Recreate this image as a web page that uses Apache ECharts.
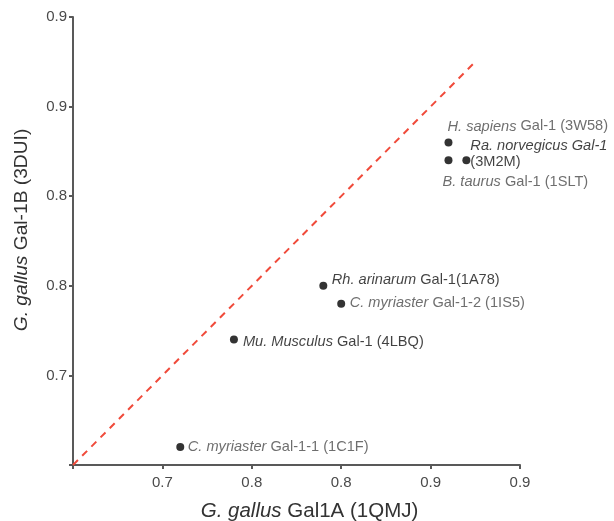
<!DOCTYPE html>
<html>
<head>
<meta charset="utf-8">
<script src="https://cdn.jsdelivr.net/npm/echarts@6/dist/echarts.min.js"></script>
<style>html,body{margin:0;padding:0;background:#fff}#c{width:614px;height:521px}</style>
</head>
<body>
<div id="c"></div>
<script>
// ---- data ----
var xValues = [0.71, 0.74, 0.79, 0.80, 0.86, 0.87, 0.86];
var yValues = [0.66, 0.72, 0.75, 0.74, 0.83, 0.82, 0.82];
var labelItalic = ['C. myriaster', 'Mu. Musculus', 'Rh. arinarum', 'C. myriaster', 'H. sapiens', 'Ra. norvegicus Gal-1', 'B. taurus'];
var labelRest = [' Gal-1-1 (1C1F)', ' Gal-1 (4LBQ)', ' Gal-1(1A78)', ' Gal-1-2 (1IS5)', ' Gal-1 (3W58)', '\n(3M2M)', ' Gal-1 (1SLT)'];
var diagX = [0.65, 0.875];
var diagY = [0.65, 0.875];
var xTickLabels = ['', '0.7', '0.8', '0.8', '0.9', '0.9'];
var yTickLabels = ['', '0.7', '0.8', '0.8', '0.9', '0.9'];
var axisMin = 0.65, axisMax = 0.90, axisStep = 0.05;

// ---- label styling (not data) ----
var labelStyle = [
  {dx: -1.5, dy: 0, dark: false},
  {dx: 0, dy: 2, dark: true},
  {dx: -0.5, dy: -6, dark: true},
  {dx: -0.5, dy: -1, dark: false},
  {dx: -10, dy: -16, dark: false},
  {dx: -5, dy: -6, dark: true},
  {dx: -15, dy: 22, dark: false}
];

var FONT = '"Liberation Sans", Arial, Helvetica, sans-serif';
var LFS = 14.6;

function tickFmt(arr) {
  return function (v) {
    var i = Math.round((v - axisMin) / axisStep);
    return arr[i] !== undefined ? arr[i] : '';
  };
}

var scatterData = xValues.map(function (x, i) {
  var st = labelStyle[i];
  var col = st.dark ? '#111' : '#4a4a4a';
  var rest = labelRest[i];
  var txt = '{i|' + labelItalic[i] + '}';
  var parts = rest.split('\n');
  if (parts[0]) txt += '{n|' + parts[0] + '}';
  for (var k = 1; k < parts.length; k++) txt += '\n{n|' + parts[k] + '}';
  return {
    value: [x, yValues[i]],
    label: {
      show: true,
      position: 'right',
      offset: [st.dx, st.dy],
      formatter: txt,
      rich: {
        i: {fontStyle: 'italic', fontSize: LFS, fontFamily: FONT, color: col, lineHeight: 16},
        n: {fontSize: LFS, fontFamily: FONT, color: col, lineHeight: 16}
      }
    }
  };
});

function nameStyle(fs, pad) {
  return {fontSize: fs, fontFamily: FONT, color: '#333', padding: pad,
    rich: {i: {fontStyle: 'italic', fontSize: fs, fontFamily: FONT, color: '#333'},
           n: {fontSize: fs, fontFamily: FONT, color: '#333'}}};
}

var axisCommon = {
  type: 'value',
  min: axisMin,
  max: axisMax,
  interval: axisStep,
  splitLine: {show: false},
  axisLine: {show: true, lineStyle: {color: '#595959', width: 2}},
  axisTick: {show: true, length: 4, lineStyle: {color: '#595959', width: 2}},
  nameLocation: 'middle'
};

var chart = echarts.init(document.getElementById('c'), null, {renderer: 'canvas'});
chart.setOption({
  animation: false,
  backgroundColor: '#fff',
  grid: {left: 73, right: 94, top: 17, bottom: 56, containLabel: false, outerBoundsMode: 'none'},
  xAxis: Object.assign({}, axisCommon, {
    name: '{i|G. gallus}{n| Gal1A (1QMJ)}',
    nameGap: 36,
    nameTextStyle: nameStyle(20.5, [0, 0, 0, 26]),
    axisLabel: {formatter: tickFmt(xTickLabels), fontSize: 15, fontFamily: FONT, color: '#4a4a4a', margin: 10}
  }),
  yAxis: Object.assign({}, axisCommon, {
    name: '{i|G. gallus}{n| Gal-1B (3DUI)}',
    nameGap: 42,
    nameRotate: 90,
    nameTextStyle: nameStyle(19.2, [0, 0, 0, 22]),
    axisLabel: {formatter: tickFmt(yTickLabels), fontSize: 15, fontFamily: FONT, color: '#4a4a4a', margin: 6}
  }),
  series: [
    {
      type: 'line',
      data: diagX.map(function (x, i) { return [x, diagY[i]]; }),
      symbol: 'none',
      lineStyle: {color: '#f04a3a', width: 2, type: [7, 6]},
      silent: true,
      z: 1
    },
    {
      type: 'scatter',
      data: scatterData,
      symbol: 'circle',
      symbolSize: 8,
      itemStyle: {color: '#000'},
      z: 3
    }
  ]
});
</script>
</body>
</html>
